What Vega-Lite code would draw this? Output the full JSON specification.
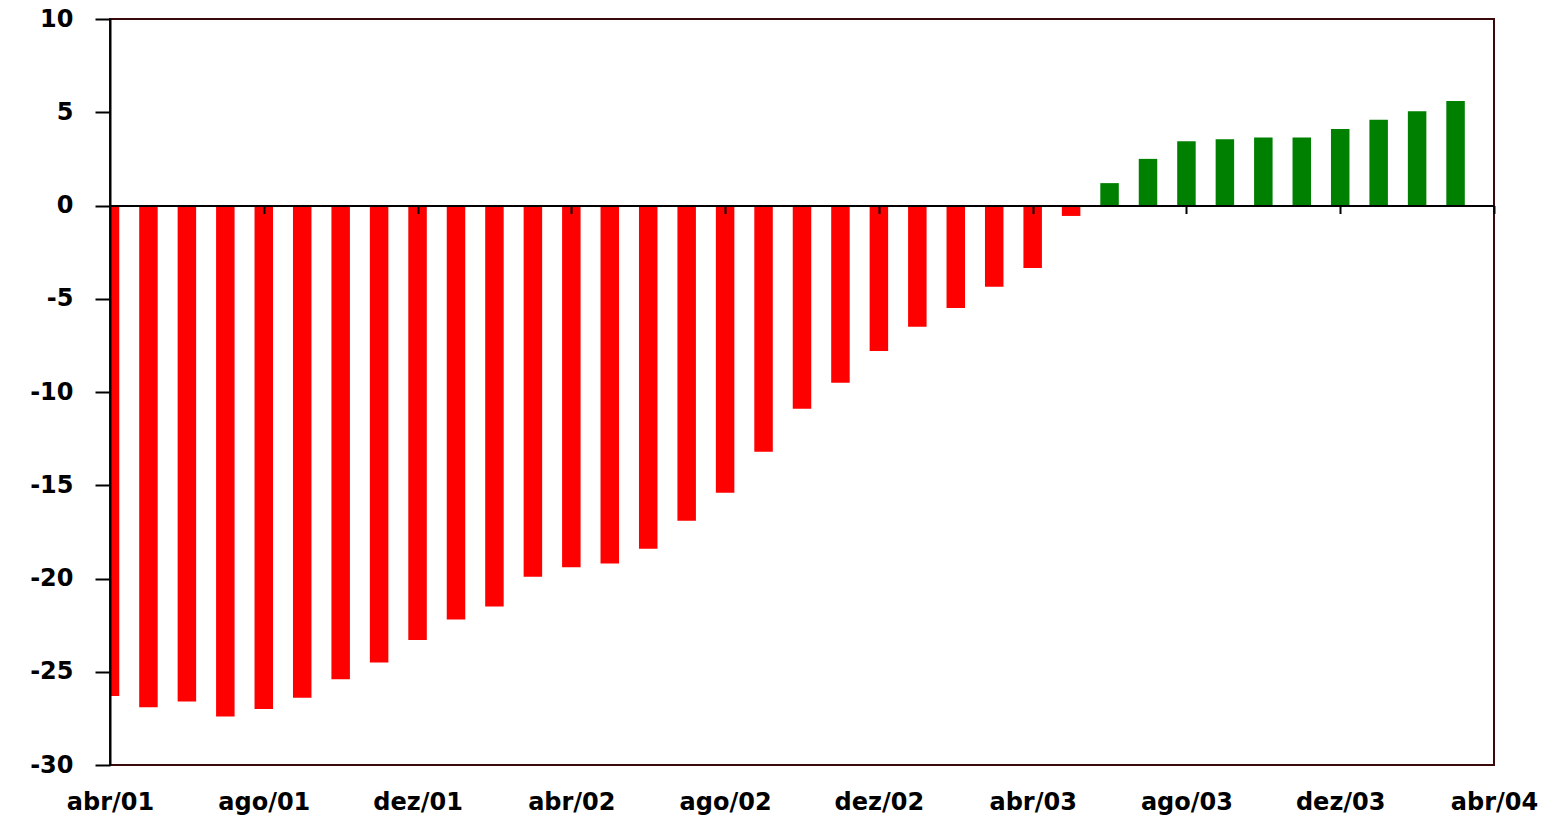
{
  "$schema": "https://vega.github.io/schema/vega-lite/v6.json",
  "width": 1384,
  "height": 746,
  "autosize": "none",
  "padding": {"left": 110, "top": 19, "right": 66, "bottom": 52},
  "background": "white",
  "config": {
    "view": {"stroke": "#3a0a0a", "strokeWidth": 2},
    "font": "DejaVu Sans"
  },
  "data": {
    "values": [
      {"mes": "abr/01", "i": 0, "valor": -26.3},
      {"mes": "mai/01", "i": 1, "valor": -26.9},
      {"mes": "jun/01", "i": 2, "valor": -26.6},
      {"mes": "jul/01", "i": 3, "valor": -27.4},
      {"mes": "ago/01", "i": 4, "valor": -27.0},
      {"mes": "set/01", "i": 5, "valor": -26.4},
      {"mes": "out/01", "i": 6, "valor": -25.4},
      {"mes": "nov/01", "i": 7, "valor": -24.5},
      {"mes": "dez/01", "i": 8, "valor": -23.3},
      {"mes": "jan/02", "i": 9, "valor": -22.2},
      {"mes": "fev/02", "i": 10, "valor": -21.5},
      {"mes": "mar/02", "i": 11, "valor": -19.9},
      {"mes": "abr/02", "i": 12, "valor": -19.4},
      {"mes": "mai/02", "i": 13, "valor": -19.2},
      {"mes": "jun/02", "i": 14, "valor": -18.4},
      {"mes": "jul/02", "i": 15, "valor": -16.9},
      {"mes": "ago/02", "i": 16, "valor": -15.4},
      {"mes": "set/02", "i": 17, "valor": -13.2},
      {"mes": "out/02", "i": 18, "valor": -10.9},
      {"mes": "nov/02", "i": 19, "valor": -9.5},
      {"mes": "dez/02", "i": 20, "valor": -7.8},
      {"mes": "jan/03", "i": 21, "valor": -6.5},
      {"mes": "fev/03", "i": 22, "valor": -5.5},
      {"mes": "mar/03", "i": 23, "valor": -4.35},
      {"mes": "abr/03", "i": 24, "valor": -3.35},
      {"mes": "mai/03", "i": 25, "valor": -0.56},
      {"mes": "jun/03", "i": 26, "valor": 1.2},
      {"mes": "jul/03", "i": 27, "valor": 2.5},
      {"mes": "ago/03", "i": 28, "valor": 3.45},
      {"mes": "set/03", "i": 29, "valor": 3.55},
      {"mes": "out/03", "i": 30, "valor": 3.65},
      {"mes": "nov/03", "i": 31, "valor": 3.65},
      {"mes": "dez/03", "i": 32, "valor": 4.1},
      {"mes": "jan/04", "i": 33, "valor": 4.6},
      {"mes": "fev/04", "i": 34, "valor": 5.05},
      {"mes": "mar/04", "i": 35, "valor": 5.6}
    ]
  },
  "layer": [
    {
      "mark": {"type": "bar", "width": 18.5, "clip": true},
      "encoding": {
        "x": {
          "field": "i",
          "type": "quantitative",
          "scale": {"domain": [0, 36], "nice": false, "zero": false, "padding": 0},
          "axis": {
            "orient": "bottom",
            "values": [0, 4, 8, 12, 16, 20, 24, 28, 32, 36],
            "labelExpr": "['abr/01','ago/01','dez/01','abr/02','ago/02','dez/02','abr/03','ago/03','dez/03','abr/04'][round(datum.value/4)]",
            "ticks": false,
            "domain": false,
            "grid": false,
            "title": null,
            "labelPadding": 25,
            "labelFontSize": 24,
            "labelFontWeight": "bold",
            "labelColor": "black",
            "labelFont": "DejaVu Sans",
            "labelOverlap": false,
            "labelFlush": false
          }
        },
        "y": {
          "field": "valor",
          "type": "quantitative",
          "scale": {"domain": [-30, 10], "nice": false},
          "axis": {
            "values": [-30, -25, -20, -15, -10, -5, 0, 5, 10],
            "labelExpr": "datum.value < 0 ? '-' + abs(datum.value) : '' + datum.value",
            "title": null,
            "grid": false,
            "tickSize": 15,
            "tickWidth": 2,
            "tickColor": "black",
            "domainColor": "black",
            "domainWidth": 2,
            "labelFontSize": 24,
            "labelFontWeight": "bold",
            "labelColor": "black",
            "labelFont": "DejaVu Sans",
            "labelPadding": 22,
            "labelOverlap": false,
            "labelFlush": false,
            "zindex": 1
          }
        },
        "color": {
          "condition": {"test": "datum.valor < 0", "value": "#FF0000"},
          "value": "#008000"
        }
      }
    },
    {
      "mark": {"type": "point", "opacity": 0},
      "encoding": {
        "x": {
          "field": "i",
          "type": "quantitative",
          "axis": {
            "orient": "bottom",
            "offset": -559.5,
            "values": [4, 8, 12, 16, 20, 24, 28, 32, 36],
            "labels": false,
            "tickSize": 8,
            "tickWidth": 2,
            "tickColor": "black",
            "domainColor": "black",
            "domainWidth": 2,
            "grid": false,
            "title": null,
            "zindex": 1
          }
        },
        "y": {"field": "valor", "type": "quantitative"}
      }
    }
  ],
  "resolve": {"axis": {"x": "independent"}}
}
